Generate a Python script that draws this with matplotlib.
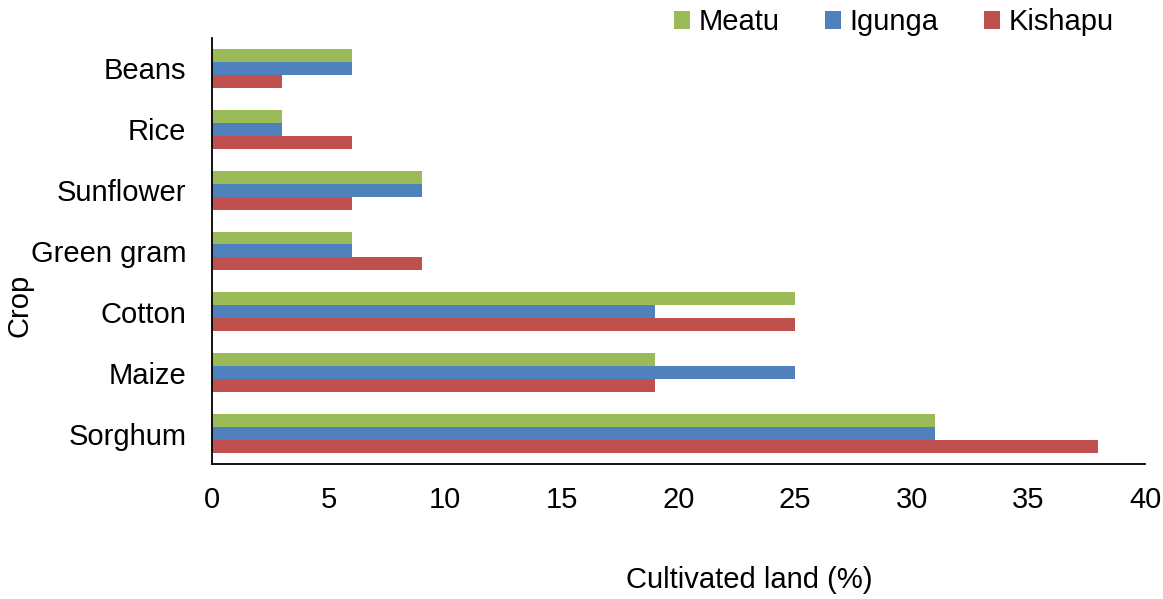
import matplotlib.pyplot as plt
import numpy as np

plt.rcParams['font.family'] = ['Liberation Sans', 'DejaVu Sans']

crops = ["Sorghum", "Maize", "Cotton", "Green gram", "Sunflower", "Rice", "Beans"]
meatu = [31, 19, 25, 6, 9, 3, 6]
igunga = [31, 25, 19, 6, 9, 3, 6]
kishapu = [38, 19, 25, 9, 6, 6, 3]

green = "#9BBB59"
blue = "#4F81BD"
red = "#C0504D"
fs = 21

fig = plt.figure(figsize=(11.63, 5.99), dpi=100)
ax = fig.add_axes([0.1823, 0.2254, 0.8023, 0.7112])

y = np.arange(len(crops))
h = 0.213
ax.barh(y - h, kishapu, height=h, color=red, label="Kishapu")
ax.barh(y, igunga, height=h, color=blue, label="Igunga")
ax.barh(y + h, meatu, height=h, color=green, label="Meatu")

ax.set_xlim(0, 40)
ax.set_ylim(-0.5, 6.5)
ax.set_xticks(range(0, 41, 5))
ax.set_yticks(y)
ax.set_yticklabels(crops)
ax.tick_params(axis="both", length=0, labelsize=fs)
ax.tick_params(axis="x", pad=16)
ax.tick_params(axis="y", pad=18.5)

for side in ("top", "right"):
    ax.spines[side].set_visible(False)
for side in ("left", "bottom"):
    ax.spines[side].set_linewidth(1.3)

fig.text(0.644, 0.008, "Cultivated land (%)", ha="center", va="bottom", fontsize=fs)
fig.text(0.017, 0.49, "Crop", ha="center", va="center", rotation=90, fontsize=fs)

handles, labels = ax.get_legend_handles_labels()
fig.legend(handles[::-1], labels[::-1], loc="upper right", bbox_to_anchor=(0.98, 1.03),
           ncol=3, frameon=False, fontsize=fs, handlelength=0.55, handleheight=0.55,
           handletextpad=0.3, columnspacing=1.55)

fig.savefig("out.png", dpi=100)
